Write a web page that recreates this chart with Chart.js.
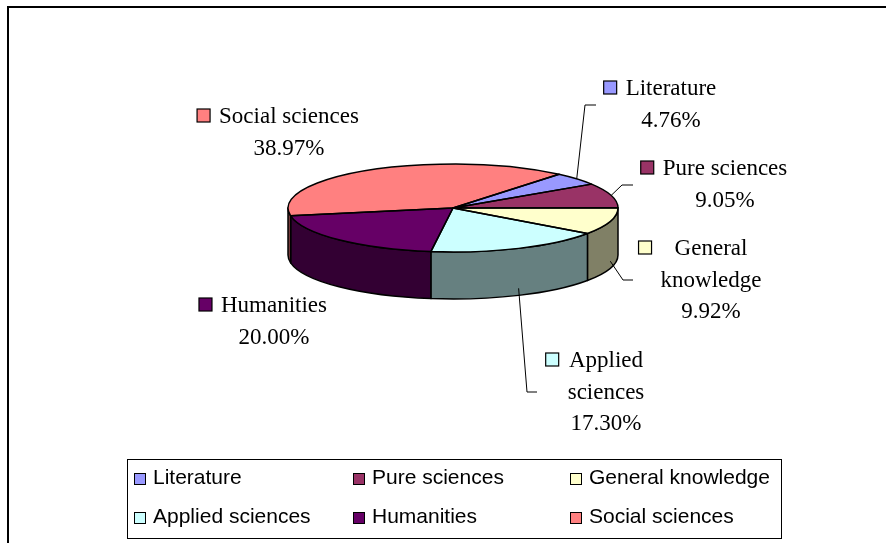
<!DOCTYPE html>
<html>
<head>
<meta charset="utf-8">
<script src="https://cdn.jsdelivr.net/npm/chart.js@4.4.0/dist/chart.umd.min.js"></script>
<style>
html, body { margin:0; padding:0; background:#fff; overflow:hidden; }
#frame { position:absolute; left:7px; top:6px; width:1000px; height:700px; border:2px solid #000; box-sizing:border-box; }
#wrap { position:absolute; left:0; top:0; width:886px; height:543px; }
</style>
</head>
<body>
<div id="frame"></div>
<div id="wrap"><canvas id="pie3d" width="886" height="543"></canvas></div>
<script>
// data (percent of titles)
var categories = ["Literature", "Pure sciences", "General knowledge", "Applied sciences", "Humanities", "Social sciences"];
var shares = [4.76, 9.05, 9.92, 17.30, 20.00, 38.97];
var labelLines = [["Literature"], ["Pure sciences"], ["General", "knowledge"], ["Applied", "sciences"], ["Humanities"], ["Social sciences"]];
var topColors = ["#9999FF", "#993366", "#FFFFCC", "#CCFFFF", "#660066", "#FF8080"];
var sideColors = ["#4D4D80", "#4D1A33", "#808066", "#668080", "#330033", "#804040"];

// look of the excel 3d pie
var DEPTH = 47;
var TILT = 44 / 165;
var SERIF = '23px "Liberation Serif", "Times New Roman", serif';
var SANS = '21px "Liberation Sans", Arial, sans-serif';

// where excel put the data labels: centre x, first baseline, leader elbow
var labelLayout = [
	{ x: 671, y: 95,  elbow: [585, 105], tip: [596, 105] },
	{ x: 725, y: 175, elbow: [622, 185], tip: [633, 185] },
	{ x: 711, y: 255, elbow: [623, 280], tip: [633, 280] },
	{ x: 606, y: 367, elbow: [527, 392], tip: [537, 392] },
	{ x: 274, y: 312, elbow: null },
	{ x: 289, y: 123, elbow: null }
];

function anchorPoint(arc, rx, ry) {
	var m = (arc.startAngle + arc.endAngle) / 2;
	var s = Math.sin(m);
	return [arc.x + rx * Math.cos(m), arc.y + ry * s + (s > 0 ? DEPTH * 0.85 : 0)];
}

var pie3d = {
	id: 'pie3d',
	beforeDatasetsDraw: function(chart) {
		var ctx = chart.ctx;
		var arcs = chart.getDatasetMeta(0).data;
		var cx = arcs[0].x, cy = arcs[0].y, rx = arcs[0].outerRadius, ry = rx * TILT;

		// side walls, only the front half shows
		ctx.save();
		ctx.lineWidth = 1.5;
		ctx.strokeStyle = "#000";
		ctx.lineJoin = "round";
		arcs.forEach(function(arc, i) {
			for (var k = -1; k <= 2; k++) {
				var a = Math.max(arc.startAngle, 2 * Math.PI * k);
				var b = Math.min(arc.endAngle, 2 * Math.PI * k + Math.PI);
				if (b - a < 0.002) continue;
				ctx.beginPath();
				ctx.ellipse(cx, cy, rx, ry, 0, a, b);
				ctx.ellipse(cx, cy + DEPTH, rx, ry, 0, b, a, true);
				ctx.closePath();
				ctx.fillStyle = sideColors[i];
				ctx.fill();
				ctx.stroke();
			}
		});
		ctx.restore();

		// squash the top face
		ctx.save();
		ctx.translate(cx, cy);
		ctx.scale(1, TILT);
		ctx.translate(-cx, -cy);
	},
	afterDatasetsDraw: function(chart) {
		var ctx = chart.ctx;
		ctx.restore();
		var arcs = chart.getDatasetMeta(0).data;
		ctx.save();
		ctx.lineWidth = 1.5;
		ctx.strokeStyle = "#000";
		ctx.lineJoin = "round";
		arcs.forEach(function(arc) {
			var rx = arc.outerRadius, ry = rx * TILT;
			ctx.beginPath();
			ctx.moveTo(arc.x, arc.y);
			ctx.lineTo(arc.x + rx * Math.cos(arc.startAngle), arc.y + ry * Math.sin(arc.startAngle));
			ctx.ellipse(arc.x, arc.y, rx, ry, 0, arc.startAngle, arc.endAngle);
			ctx.closePath();
			ctx.stroke();
		});
		ctx.restore();
	}
};

var dataLabels = {
	id: 'dataLabels',
	afterDraw: function(chart) {
		var ctx = chart.ctx;
		var arcs = chart.getDatasetMeta(0).data;
		ctx.save();
		ctx.font = SERIF;
		ctx.textAlign = "center";
		ctx.textBaseline = "alphabetic";
		for (var i = 0; i < arcs.length; i++) {
			var pos = labelLayout[i];
			var lines = labelLines[i].concat([shares[i].toFixed(2) + "%"]);
			var maxW = 0;
			for (var j = 0; j < lines.length; j++) maxW = Math.max(maxW, ctx.measureText(lines[j]).width);
			var left = pos.x - maxW / 2;

			ctx.fillStyle = topColors[i];
			ctx.fillRect(left - 22, pos.y - 14, 13, 13);
			ctx.strokeStyle = "#000";
			ctx.lineWidth = 1.2;
			ctx.strokeRect(left - 22, pos.y - 14, 13, 13);

			ctx.fillStyle = "#000";
			for (j = 0; j < lines.length; j++) ctx.fillText(lines[j], pos.x, pos.y + j * 31.5);

			if (pos.elbow) {
				var rx = arcs[i].outerRadius, ry = rx * TILT;
				var p = anchorPoint(arcs[i], rx, ry);
				ctx.beginPath();
				ctx.lineWidth = 1;
				ctx.moveTo(p[0], p[1]);
				ctx.lineTo(pos.elbow[0], pos.elbow[1]);
				ctx.lineTo(pos.tip[0], pos.tip[1]);
				ctx.stroke();
			}
		}
		ctx.restore();
	}
};

var legendBox = {
	id: 'legendBox',
	afterDraw: function(chart) {
		var ctx = chart.ctx;
		var colX = [134, 353, 570];
		var rowY = [484, 523];
		ctx.save();
		ctx.strokeStyle = "#000";
		ctx.lineWidth = 1;
		ctx.strokeRect(127.5, 459.5, 654, 79);
		ctx.font = SANS;
		ctx.textBaseline = "alphabetic";
		for (var i = 0; i < categories.length; i++) {
			var x = colX[i % 3], y = rowY[Math.floor(i / 3)];
			ctx.fillStyle = topColors[i];
			ctx.fillRect(x + 0.5, y - 10.5, 11, 11);
			ctx.strokeRect(x + 0.5, y - 10.5, 11, 11);
			ctx.fillStyle = "#000";
			ctx.fillText(categories[i], x + 19, y);
		}
		ctx.restore();
	}
};

new Chart(document.getElementById("pie3d"), {
	type: 'pie',
	data: {
		labels: categories,
		datasets: [{
			data: shares,
			backgroundColor: topColors,
			borderWidth: 0,
			clip: false
		}]
	},
	options: {
		responsive: false,
		animation: false,
		events: [],
		rotation: 40,
		layout: { padding: { left: 288, right: 268, top: 43, bottom: 170 } },
		plugins: {
			legend: { display: false },
			tooltip: { enabled: false }
		}
	},
	plugins: [pie3d, dataLabels, legendBox]
});
</script>
</body>
</html>
